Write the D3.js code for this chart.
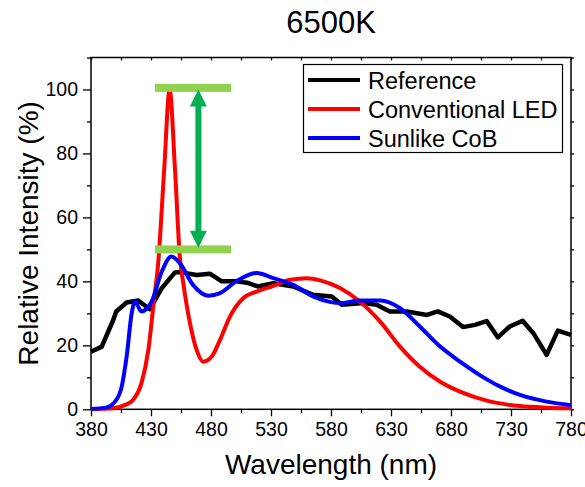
<!DOCTYPE html>
<html><head><meta charset="utf-8">
<script src="https://cdn.jsdelivr.net/npm/d3@7/dist/d3.min.js"></script>
<style>body{margin:0;background:#fff}svg{display:block;font-family:"Liberation Sans",Arial,sans-serif}</style>
</head><body><svg id="c" width="585" height="487"></svg>
<script>
const title = "6500K";
const xTicks = [380,430,480,530,580,630,680,730,780];
const yTicks = [0,20,40,60,80,100];
const seriesNames = ["Reference","Conventional LED","Sunlike CoB"];
const seriesColors = ["#000000","#ff0000","#0000ff"];
const refWl  = [380,389,398.6,401,409.7,419.4,429,439,450,454,468,479,489,501,510,519,532,548.6,565,580.6,589,607,618,629,643,660,669,679,690,700,709.7,719,729,739.7,748.6,759.7,769,780];
const refVal = [18,19.6,28,30.6,33.4,34,31.3,37.9,42.8,42.9,42,42.4,40,40,39.6,38.4,39.4,38.4,35.8,35.3,32.7,33.2,32.7,30.6,30.6,29.5,30.6,29,25.7,26.4,27.6,22.5,25.9,27.7,23.8,17,24.6,23.3];
const ledWl  = [380,398.6,408,415,422,427.8,432.5,436,441,445.5,450,454,456.9,462.5,468,473.6,480.6,487.5,495.8,507,518,532,546,560,571,587.5,604,621,637.5,654,671,687.5,709.7,737.5,760,780];
const ledVal = [0,0.3,1.3,2.9,8.1,18.6,34.2,45.7,75,100,75,47.8,39.5,26.9,18.6,14.9,16.5,21.7,29,34.8,36.8,38.6,40.5,41,40.3,37.9,33.7,27.4,19.6,13.3,8.6,5.5,2.7,1.0,0.5,0.3];
const sunWl  = [380,393,400,405.6,409.7,413.9,416.7,422,430.6,439,447,454,465,477.8,487.5,501,518,532,548.6,565,579,587.5,604,621,637.5,654,671,687.5,704,721,737.5,759.7,780];
const sunVal = [0.1,0.6,2.4,7.1,16.5,30,33.7,30.6,33.7,43.1,47.8,45.7,38.9,35.5,36.3,40,42.6,41,38.9,35.3,33.6,33.2,34,34,31.6,25.9,19.6,14.9,10.7,7.1,4.5,2.4,1.3];
const barWl = [433.3,496.7];
const barVal = [100.5,50];
const arrowWl = 469.5;
const arrowVal = [100,50.5];

const svg = d3.select("#c");
const m = {l:91,r:571,t:57.5,b:409.3};
const x = d3.scaleLinear().domain([380,780]).range([m.l,m.r]);
const y = d3.scaleLinear().domain([0,110]).range([m.b,m.t]);

// title
svg.append("text").attr("x",(m.l+m.r)/2).attr("y",33).attr("text-anchor","middle")
  .attr("font-size",31).text(title);

// axes
const xMinor = d3.range(380,781,25);
const yMinor = d3.range(0,111,10);
const fs = 19.5;
const gB = svg.append("g").attr("transform",`translate(0,${m.b})`)
  .call(d3.axisBottom(x).tickValues(xTicks).tickSize(7).tickPadding(6).tickFormat(d3.format("d")));
const gBm = svg.append("g").attr("transform",`translate(0,${m.b})`)
  .call(d3.axisBottom(x).tickValues(xMinor.filter(v=>!xTicks.includes(v))).tickSize(4).tickFormat(""));
const gL = svg.append("g").attr("transform",`translate(${m.l},0)`)
  .call(d3.axisLeft(y).tickValues(yTicks).tickSize(8).tickPadding(5).tickFormat(d3.format("d")));
const gLm = svg.append("g").attr("transform",`translate(${m.l},0)`)
  .call(d3.axisLeft(y).tickValues(yMinor.filter(v=>!yTicks.includes(v))).tickSize(4).tickFormat(""));
const gT = svg.append("g").attr("transform",`translate(0,${m.t})`)
  .call(d3.axisBottom(x).tickValues(xMinor).tickSize(3).tickFormat(""));
const gR = svg.append("g").attr("transform",`translate(${m.r},0)`)
  .call(d3.axisRight(y).tickValues(yMinor).tickSize(3).tickFormat(""));
[gB,gBm,gL,gLm,gT,gR].forEach(g=>{
  g.select(".domain").remove();
  g.selectAll("line").attr("stroke","#000").attr("stroke-width",1.3);
  g.selectAll("text").attr("font-size",fs).attr("fill","#000").attr("font-family","Liberation Sans, Arial, sans-serif");
});
svg.append("rect").attr("x",m.l).attr("y",m.t).attr("width",m.r-m.l).attr("height",m.b-m.t)
  .attr("fill","none").attr("stroke","#000").attr("stroke-width",1.5);

// axis labels
svg.append("text").attr("x",(m.l+m.r)/2).attr("y",474).attr("text-anchor","middle")
  .attr("font-size",28).text("Wavelength (nm)");
svg.append("text").attr("transform",`translate(38,${(m.t+m.b)/2}) rotate(-90)`).attr("text-anchor","middle")
  .attr("font-size",28).text("Relative Intensity (%)");

// lines
const plot = svg.append("g");
const series = [[refWl,refVal,d3.curveLinear],[ledWl,ledVal,d3.curveMonotoneX],[sunWl,sunVal,d3.curveMonotoneX]];
series.forEach(([w,v,c],i)=>{
  const data = w.map((d,j)=>[d,v[j]]);
  plot.append("path").datum(data)
    .attr("d",d3.line().x(d=>x(d[0])).y(d=>y(d[1])).curve(c))
    .attr("fill","none").attr("stroke",seriesColors[i]).attr("stroke-width",i===0?4.5:4)
    .attr("stroke-linejoin","round");
});

// annotation bars
barVal.forEach(v=>{
  svg.append("rect").attr("x",x(barWl[0])).attr("width",x(barWl[1])-x(barWl[0]))
    .attr("y",y(v)-4).attr("height",8).attr("fill","#92d050");
});
// double arrow
const ax = x(arrowWl), ay1 = y(arrowVal[0]), ay2 = y(arrowVal[1]);
const ah = 17, aw = 8.5;
svg.append("line").attr("x1",ax).attr("x2",ax).attr("y1",ay1+ah-1).attr("y2",ay2-ah+1)
  .attr("stroke","#00b050").attr("stroke-width",6);
svg.append("path").attr("d",`M${ax},${ay1} L${ax-aw},${ay1+ah} L${ax+aw},${ay1+ah} Z`).attr("fill","#00b050");
svg.append("path").attr("d",`M${ax},${ay2} L${ax-aw},${ay2-ah} L${ax+aw},${ay2-ah} Z`).attr("fill","#00b050");

// legend
const lg = svg.append("g");
lg.append("rect").attr("x",303.5).attr("y",64.5).attr("width",259).attr("height",88)
  .attr("fill","#fff").attr("stroke","#000").attr("stroke-width",1.2);
seriesNames.forEach((n,i)=>{
  const cy = 80 + i*29;
  lg.append("line").attr("x1",308).attr("x2",360).attr("y1",cy).attr("y2",cy)
    .attr("stroke",seriesColors[i]).attr("stroke-width",4);
  lg.append("text").attr("x",368).attr("y",cy+8.5).attr("font-size",23.5).text(n);
});
</script></body></html>
